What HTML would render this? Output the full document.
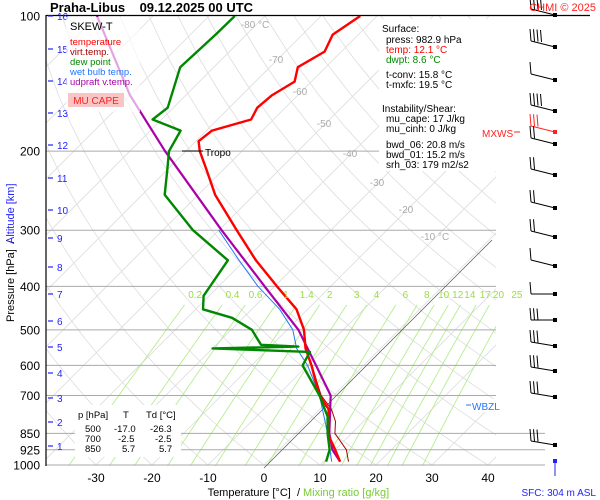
<!DOCTYPE html>
<html><head><meta charset="utf-8">
<style>
html,body{margin:0;background:#fff;width:600px;height:500px;overflow:hidden;}
svg{display:block;font-family:"Liberation Sans",Arial,sans-serif;}
</style></head>
<body>
<svg id="c" width="600" height="500" viewBox="0 0 600 500">
<rect width="600" height="500" fill="#fff"/>
<defs><clipPath id="pc"><rect x="46" y="15" width="450" height="451"/></clipPath></defs>
<g id="grid" clip-path="url(#pc)"></g>
<g id="hlines"></g>
<line x1="264" y1="468" x2="492" y2="240" stroke="#555" stroke-width="0.7"/>
<g id="series" clip-path="url(#pc)"></g>
<g id="axes"></g>
<g id="barbs"></g>

<text x="50" y="12" font-size="13" font-weight="bold">Praha-Libus&#160;&#160;&#160;&#160;09.12.2025 00 UTC</text>
<text x="596" y="11" font-size="11" fill="#f22" text-anchor="end">CHMI © 2025</text>

<g>
<rect x="66" y="17" width="74" height="95" fill="#fff" fill-opacity="0.65"/>
<text x="70" y="30" font-size="11" fill="#000">SKEW-T</text>
<text x="70" y="45" font-size="9.5" fill="#f00">temperature</text>
<text x="70" y="55" font-size="9.5" fill="#a00">virt.temp.</text>
<text x="70" y="65" font-size="9.5" fill="#080">dew point</text>
<text x="70" y="75" font-size="9.5" fill="#27f">wet bulb temp.</text>
<text x="70" y="85" font-size="9.5" fill="#a0a">udpraft v.temp.</text>
<rect x="68" y="93" width="56" height="14" fill="#f8c4c4"/>
<text x="96" y="104" font-size="10" fill="#f22" text-anchor="middle">MU CAPE</text>
</g>

<g font-size="10">
<rect x="379" y="19" width="117" height="152" fill="#fff"/>
<text x="382" y="32">Surface:</text>
<text x="386" y="43">press: 982.9 hPa</text>
<text x="386" y="53" fill="#f00">temp: 12.1 °C</text>
<text x="386" y="63" fill="#080">dwpt: 8.6 °C</text>
<text x="386" y="78">t-conv: 15.8 °C</text>
<text x="386" y="88">t-mxfc: 19.5 °C</text>
<text x="382" y="112">Instability/Shear:</text>
<text x="386" y="122">mu_cape: 17 J/kg</text>
<text x="386" y="132">mu_cinh: 0 J/kg</text>
<text x="386" y="148">bwd_06: 20.8 m/s</text>
<text x="386" y="158">bwd_01: 15.2 m/s</text>
<text x="386" y="168">srh_03: 179 m2/s2</text>
</g>

<g font-size="9.5">
<rect x="75" y="405" width="106" height="52" fill="#fff"/>
<text x="78" y="418">p [hPa]</text><text x="123" y="418">T</text><text x="146" y="418">Td [°C]</text>
<text x="85" y="432">500</text><text x="114" y="432">-17.0</text><text x="150" y="432">-26.3</text>
<text x="85" y="442">700</text><text x="118" y="442">-2.5</text><text x="155" y="442">-2.5</text>
<text x="85" y="452">850</text><text x="122" y="452">5.7</text><text x="159" y="452">5.7</text>
</g>

<g>
<line x1="182" y1="151" x2="203" y2="151" stroke="#000" stroke-width="1"/>
<text x="205" y="156" font-size="10">Tropo</text>
</g>
<g>
<rect x="464" y="399" width="44" height="13" fill="#fff"/>
<line x1="466" y1="405" x2="471" y2="405" stroke="#27f"/>
<text x="472" y="410" font-size="10" fill="#27f">WBZL</text>
</g>
<g>
<text x="482" y="137" font-size="10" fill="#f22">MXWS</text>
<line x1="514" y1="132" x2="520" y2="132" stroke="#f22"/>
</g>
<text x="300" y="496" font-size="11" text-anchor="end">Temperature [°C]&#160;&#160;/</text>
<text x="303" y="496" font-size="11" fill="#7c3">Mixing ratio [g/kg]</text>
<text x="14" y="240" font-size="11" transform="rotate(-90 14 240)" text-anchor="end">Pressure [hPa]&#160;&#160;/</text>
<text x="14" y="244" font-size="11" fill="#22f" transform="rotate(-90 14 244)">Altitude [km]</text>
<text x="596" y="496" font-size="10" fill="#22f" text-anchor="end">SFC: 304 m ASL</text>
<line x1="555" y1="461" x2="555" y2="476" stroke="#22f"/>
<rect x="553" y="459" width="4" height="4" fill="#22f"/>
</svg>
<script>
// ---- data ----
const tP=[983,925,850,800,750,700,650,600,550,500,450,400,350,300,250,220,200,190,180,170,160,150,140,130,120,110,100];
const tT=[13,10.0,5.7,3.8,1.5,-2.5,-5.8,-9.3,-13.4,-17.0,-22,-29.6,-38,-46.8,-57,-63,-67.5,-69.5,-69,-64,-65,-64.6,-63,-65,-63,-64.6,-63];
const vP=[983,925,850,800,750,700,650,600,550,500,450,400,350,300,250,220,200,190,180,170,160,150,140,130,120,110,100];
const vT=[14.5,12,7,5,2,-2.2,-5.6,-9.2,-13.4,-17.0,-22,-29.6,-38,-46.8,-57,-63,-67.5,-69.5,-69,-64,-65,-64.6,-63,-65,-63,-64.6,-63];
const dP=[983,925,850,780,700,600,560,550,545,540,500,470,450,420,350,300,250,220,200,180,170,160,130,110,100];
const dT=[10.5,9,5.7,2.7,-2.5,-10.9,-12,-30,-15,-22,-26.3,-32,-38.7,-41,-43,-54.6,-66,-70,-73,-74.6,-81.6,-81,-86,-85.5,-85.4];
const wP=[983,850,700,600,550,500,450,400,350,300];
const wT=[11.5,5.7,-2.5,-10,-15,-19,-25,-33,-41,-50];
const pP=[983,925,850,700,600,500,400,300,200,150,100];
const pT=[13,9.5,6,-0.5,-8.5,-18,-31.8,-49.5,-73.7,-90,-110];
const pressTicks=[100,200,300,400,500,600,700,850,925,1000];
const tempTicks=[-30,-20,-10,0,10,20,30,40];
const isoTherms=[-80,-70,-60,-50,-40,-30,-20,-10];
const mixRatios=[0.2,0.4,0.6,1,1.4,2,3,4,6,8,10,12,14,17,20,25];
const kmTicks=[1,2,3,4,5,6,7,8,9,10,11,12,13,14,15,16];
const kmPos=[446,422,398,373,347,321,294,267,238,210,178,145,113,81,49,16];
const isoLabelY=[28,63,95,127,157,186,213,240];
// ---- axis functions ----
const NS='http://www.w3.org/2000/svg';
function Y(p){return 16+195*Math.log(p/100);}
function X(T,p){return 264+5.6*T+(465-Y(p));}
function mk(tag,at,parent){const e=document.createElementNS(NS,tag);for(const k in at)e.setAttribute(k,at[k]);document.getElementById(parent).appendChild(e);return e;}
function pathOf(P,T){return P.map((p,i)=>(i?'L':'M')+X(T[i],p).toFixed(1)+','+Y(p).toFixed(1)).join('');}
// isotherms
for(let T=-130;T<=50;T+=10){
  const e=mk('line',{x1:X(T,1000),y1:Y(1000),x2:X(T,100),y2:Y(100),stroke:'#ddd','stroke-width':0.8},'grid');
  
  
}
// dry adiabats
for(let th=-40;th<=200;th+=10){
  let d='';for(let p=1000;p>=100;p-=25){const T=(th+273.15)*Math.pow(p/1000,0.286)-273.15;d+=(d?'L':'M')+X(T,p).toFixed(1)+','+Y(p).toFixed(1);}
  const e=mk('path',{d:d,fill:'none',stroke:'#ddd','stroke-width':0.8},'grid');
  
  
}
// mixing ratio lines
mixRatios.forEach(w=>{
  let d='';for(let p=1040;p>=430;p-=20){const e=w*p/(622+w);const l=Math.log(e/6.112);const T=243.5*l/(17.67-l);d+=(d?'L':'M')+X(T,p).toFixed(1)+','+Y(p).toFixed(1);}
  const e=mk('path',{d:d,fill:'none',stroke:'#b6ee90','stroke-width':0.9},'grid');
  
  
  const ee=w*420/(622+w),l=Math.log(ee/6.112),T=243.5*l/(17.67-l);
  const t=mk('text',{x:X(T,420)+4,y:298,'font-size':10,fill:'#9d4','text-anchor':'middle'},'axes');
  t.textContent=String(w);
  
  
});
// isotherm labels
isoTherms.forEach((T,i)=>{
  const yy=isoLabelY[i];const p=100*Math.exp((yy-4-16)/195);
  const t=mk('text',{x:X(T,p)-2,y:yy,'font-size':10,fill:'#aaa','text-anchor':'middle'},'grid');
  t.textContent=T+((T===-80||T===-10)?' °C':'');
  
  
});
// pressure lines & labels
pressTicks.forEach(p=>{
  if(p>100){const x2=p>=850?545:496;
    const e=mk('line',{x1:46,y1:Y(p),x2:x2,y2:Y(p),stroke:'#aaa','stroke-width':1},'hlines');
    
    }
  const t=mk('text',{x:40,y:Y(p)+4.5,'font-size':12,'text-anchor':'end'},'axes');
  t.textContent=String(p);
  
  
});
mk('line',{x1:46,y1:15.5,x2:590,y2:15.5,stroke:'#000','stroke-width':1.2},'axes');
mk('line',{x1:46,y1:15,x2:46,y2:466,stroke:'#000','stroke-width':1.2},'axes');
tempTicks.forEach(T=>{
  const t=mk('text',{x:X(T,1000),y:482,'font-size':12,'text-anchor':'middle'},'axes');
  t.textContent=String(T);
  
  
});
kmTicks.forEach((k,i)=>{
  mk('line',{x1:48,y1:kmPos[i],x2:53,y2:kmPos[i],stroke:'#22f','stroke-width':1.2},'axes');
  const t=mk('text',{x:57,y:kmPos[i]+4,'font-size':10,fill:'#22f'},'axes');
  t.textContent=String(k);
  
  
});
// series
function series(P,T,col,w,name){
  const e=mk('path',{d:pathOf(P,T),fill:'none',stroke:col,'stroke-width':w,'stroke-linejoin':'round'},'series');
  
  
}
series(vP,vT,'#a00',1,'virtual-temperature-line');
series(wP,wT,'#27f',1,'wet-bulb-line');
series(pP,pT,'#a0a',2.2,'parcel-line');
series(tP,tT,'#f00',2.4,'temperature-line');
series(dP,dT,'#080',2.4,'dew-point-line');
// wind barbs (decorative)
const barbY=[15,47,80,111,132,144,175,208,237,266,294,320,346,371,397,445];
const barbN=[4,4,1,4,3,2,2,2,2,1,1,3,3,3,3,3];
barbY.forEach((y,i)=>{
  const col=i===4?'#f22':'#000';
  const x0=555,x1=531,y1=y-(i<10?6:0)-(i>=12?4:0);
  mk('line',{x1:x0,y1:y,x2:x1,y2:y1,stroke:col,'stroke-width':1},'barbs');
  mk('rect',{x:x0-2,y:y-2,width:4,height:4,fill:col},'barbs');
  for(let k=0;k<barbN[i];k++){
    const bx=x1+k*3.5,by=y1+k*0.3;
    mk('line',{x1:bx,y1:by,x2:bx-1,y2:by-12,stroke:col,'stroke-width':1},'barbs');
  }
});
</script>
</body></html>
